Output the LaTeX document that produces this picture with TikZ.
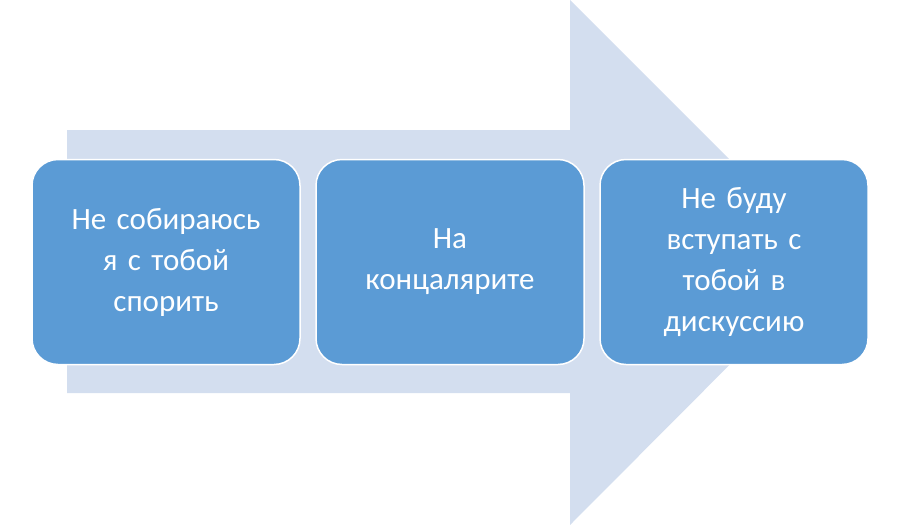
\documentclass[tikz,border=0pt]{standalone}
\usepackage{fontspec}
\setmainfont{Carlito}
\definecolor{arr}{HTML}{D3DEEF}
\definecolor{box}{HTML}{5B9BD5}
\begin{document}
\begin{tikzpicture}[x=1pt,y=-1pt,
  bx/.style={draw=white,line width=1.5pt,fill=box,rounded corners=26pt,minimum width=268pt,minimum height=205pt,text=white,align=center,text width=240pt,font=\fontsize{31}{41}\selectfont,inner sep=0pt}]
\useasboundingbox (0,0) rectangle (900,525);
\fill[arr] (67,130) -- (570,130) -- (570,0) -- (832,262) -- (570,525) -- (570,393) -- (67,393) -- cycle;
\node[bx] (a) at (166,262) {Не собираюсь\\я с тобой\\спорить};
\node[bx] (b) at (450,262) {На\\концалярите};
\node[bx] (c) at (734,262) {Не буду\\вступать с\\тобой в\\дискуссию};
\end{tikzpicture}
\end{document}
